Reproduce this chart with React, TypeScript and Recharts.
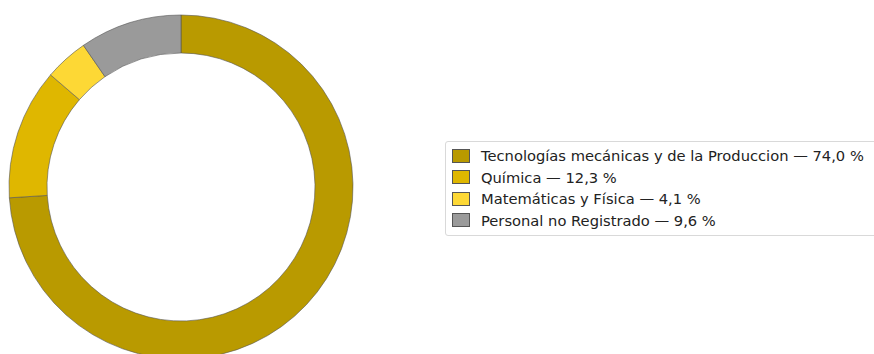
import { PieChart, Pie, Cell, Legend } from "recharts";

const AREAS = [
  "Tecnologías mecánicas y de la Produccion",
  "Química",
  "Matemáticas y Física",
  "Personal no Registrado",
];
const PERCENTS = [74.0, 12.3, 4.1, 9.6];
const COLORS = ["#b99a00", "#dfb700", "#fdd835", "#9a9a9a"];

const data = AREAS.map((name, i) => ({ name, value: PERCENTS[i] }));

const fmt = (v: number) => v.toFixed(1).replace(".", ",");

function LegendBox() {
  return (
    <div
      style={{
        border: "1px solid #d9d9d9",
        borderRadius: 3,
        background: "#fff",
        padding: "3px 0 4px 6px",
        fontFamily: "DejaVu Sans, sans-serif",
        fontSize: 14.7,
        color: "#222",
        whiteSpace: "nowrap",
      }}
    >
      {data.map((d, i) => (
        <div
          key={d.name}
          style={{ display: "flex", alignItems: "center", height: 21.5 }}
        >
          <span
            style={{
              display: "inline-block",
              width: 16,
              height: 12,
              background: COLORS[i],
              border: "1px solid #555",
              marginRight: 11,
            }}
          />
          <span>
            {d.name} — {fmt(d.value)} %
          </span>
        </div>
      ))}
    </div>
  );
}

export default function App() {
  return (
    <div style={{ position: "absolute", left: 0, top: 0, background: "#fff" }}>
      <PieChart width={874} height={354} margin={{ top: 0, right: 0, bottom: 0, left: 0 }}>
        <Pie
          data={data}
          dataKey="value"
          nameKey="name"
          cx={181}
          cy={187}
          outerRadius={172}
          innerRadius={134}
          startAngle={90}
          endAngle={-270}
          stroke="#555"
          strokeWidth={0.6}
          isAnimationActive={false}
        >
          {data.map((d, i) => (
            <Cell key={d.name} fill={COLORS[i]} />
          ))}
        </Pie>
        <Legend
          content={<LegendBox />}
          wrapperStyle={{ position: "absolute", left: 445, top: 141, width: 460 }}
        />
      </PieChart>
    </div>
  );
}
